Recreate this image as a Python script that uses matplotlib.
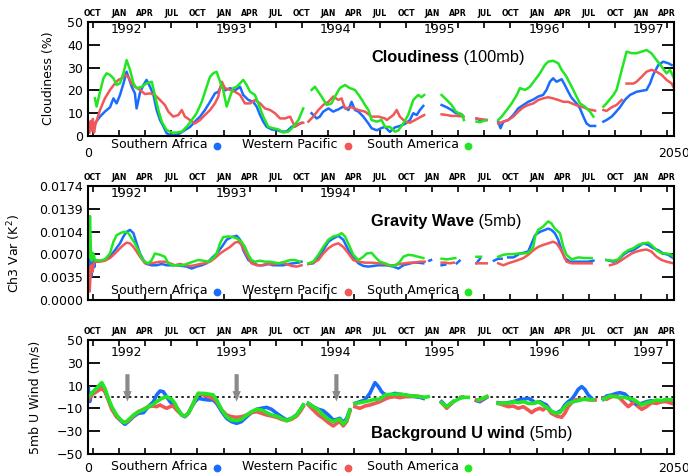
import numpy as np
from matplotlib import pyplot as plt
from matplotlib.lines import Line2D

nan = np.nan

# day 0 of the record
BASE_DATE = np.datetime64('1991-09-14')

regions = ['Southern Africa', 'Western Pacific', 'South America']
colors = ['#1a6cff', '#f25757', '#22e622']

month_labels = (['OCT', 'JAN', 'APR', 'JUL'] * 6)[:23]
year_labels = ['1992', '1993', '1994', '1995', '1996', '1997']
arrow_days = [138, 520, 869]

# ---- cloudiness at 100mb (%), (day, value)
saf_cld = [(13,2.6),(24,5.5),(42,8.5),(59,10.7),(77,12.6),(89,16.5),(100,14.3),(112,18),(124,23),(135,28.2),(153,21.6),(164,18.7),(170,12.1),(182,19),(194,22.4),(205,24.6),(217,21.6),(229,18),(240,11.4),(252,7),(263,4.4),(275,1.2),(287,0.4),(304,0.4),(322,1.2),(339,2.6),(357,4),(374,6.3),(392,8.5),(409,11.4),(427,15),(444,18.7),(456,19.4),(468,22.4),(479,20),(497,21),(514,20),(532,21.6),(543,18),(561,15.8),(578,15),(590,12.9),(602,9.2),(613,6.3),(625,4),(642,2.9),(660,2.6),(677,1.9),(695,2),(712,4),(730,4.8),(747,5.8),(765,nan),(782,10),(800,7.7),(811,8.5),(823,10.7),(841,12.1),(858,10.7),(876,11.7),(893,12.9),(911,11.4),(922,15),(934,11.4),(946,10.7),(963,8.5),(981,5.5),(992,3.4),(1010,2.5),(1027,3.5),(1039,4),(1056,1.8),(1074,3.8),(1091,4.4),(1109,5.3),(1126,7),(1138,10),(1150,9.2),(1161,11.4),(1173,13.2),(1200,nan),(1237,13.6),(1255,12.6),(1272,11.4),(1287,10),(1307,9.6),(1313,8.5),(1335,nan),(1359,7.7),(1371,7),(1392,7),(1413,nan),(1435,6.3),(1443,3.4),(1453,6.3),(1470,7),(1488,9.2),(1505,12.1),(1523,13.6),(1540,15),(1558,16),(1575,17.3),(1592,18),(1604,20.2),(1616,23.8),(1627,25.3),(1639,23.8),(1657,24.9),(1668,22.4),(1680,19.4),(1692,16.7),(1709,14.3),(1721,12.1),(1733,8.5),(1744,5.5),(1756,4.4),(1774,4.4),(1790,nan),(1803,6.3),(1814,7),(1832,8.5),(1843,10),(1861,12.6),(1878,15.8),(1896,18),(1919,19.4),(1942,19.9),(1954,20.2),(1966,23),(1977,26.8),(1995,31.1),(2012,32.6),(2030,31.9),(2042,31.1)]
wpac_cld = [(5,1.5),(9,6.5),(13,2.5),(17,7.5),(21,1.5),(26,5),(42,11.4),(59,16.5),(77,20.2),(94,23),(106,24.6),(118,25.3),(129,26.8),(141,26),(153,23),(164,21.6),(182,20.2),(199,18.4),(217,18.7),(234,18),(252,15.8),(269,13.6),(281,10.7),(298,8.5),(316,9.2),(328,11.4),(339,8.5),(357,7),(374,5.5),(392,7),(409,9.2),(427,11.4),(444,14.3),(456,17.3),(462,21),(468,23.8),(479,21),(497,20.2),(514,19.4),(532,18),(549,14.3),(567,14.3),(584,15.8),(602,14.3),(619,12.1),(637,11.4),(654,10),(672,7.7),(689,7.7),(707,8.5),(724,4),(742,5.5),(753,5.8),(762,nan),(771,6.3),(788,8.5),(806,11.4),(823,13.6),(841,15),(858,17.3),(876,15.8),(887,16.5),(899,12.1),(922,12.6),(946,11.4),(969,10.7),(992,8.5),(1016,8.5),(1039,7.7),(1045,7),(1068,9.2),(1080,11.4),(1091,8.5),(1109,6.3),(1126,5.8),(1144,7),(1161,8.2),(1176,9.2),(1200,nan),(1237,9.5),(1255,9.2),(1272,8.8),(1290,8.8),(1313,8.5),(1335,nan),(1359,7.7),(1395,7),(1415,nan),(1435,5.5),(1453,6.3),(1470,7),(1488,8.5),(1505,10.7),(1523,12.6),(1540,13.6),(1558,14.3),(1575,15.8),(1592,16.5),(1610,17),(1627,16.5),(1645,15.8),(1663,15),(1680,15),(1698,14),(1715,13.2),(1733,12.6),(1750,11.7),(1774,11.1),(1790,nan),(1803,11.4),(1814,11),(1832,12.6),(1849,13.6),(1867,15.8),(1878,nan),(1884,23),(1908,23),(1919,23.8),(1937,26),(1954,28.2),(1971,29),(1989,28.2),(2007,26.8),(2024,24.6),(2042,23),(2050,21)]
sam_cld = [(24,16.5),(30,12.9),(42,19.4),(54,25.3),(65,27.5),(77,26.8),(89,25.3),(100,22.4),(112,23.1),(124,27.5),(135,33.3),(147,29),(159,23.1),(170,21),(188,21.6),(205,23.1),(223,23.8),(234,18),(246,11.4),(258,6.3),(275,2.6),(293,1.5),(310,1.5),(328,1.9),(345,4),(363,7),(380,10),(398,15),(415,21.6),(427,26),(438,27.5),(450,28.2),(462,23.8),(473,20.2),(485,12.9),(497,17.3),(508,21),(520,21.6),(532,23.1),(543,24.6),(555,22.4),(567,19.4),(584,18),(596,14.3),(613,8.5),(631,4),(648,3.4),(666,2.9),(683,1.5),(701,1.9),(718,4),(736,7),(753,12.1),(765,nan),(782,20.2),(794,21.6),(806,19.4),(817,17.3),(835,13.6),(852,14.3),(864,17.3),(881,21),(899,22.4),(916,21),(934,20.2),(951,17.3),(969,13.6),(981,11.4),(992,7),(1010,6.3),(1027,7),(1039,4),(1056,4),(1074,1.9),(1086,2.5),(1103,5.5),(1120,9.2),(1138,15.8),(1155,18),(1167,17),(1176,18),(1200,nan),(1237,18),(1255,15.8),(1272,13.6),(1287,10.7),(1310,9.2),(1315,7),(1335,nan),(1359,6.3),(1371,6),(1392,7),(1413,nan),(1435,7),(1447,8.5),(1465,11.4),(1482,14.3),(1500,18),(1511,21),(1529,20.2),(1546,21.6),(1564,24.6),(1581,27.5),(1598,31.1),(1610,32.6),(1627,33),(1645,31.9),(1657,29),(1674,26),(1692,21.6),(1709,17.3),(1721,14.3),(1738,12.9),(1756,10.7),(1768,8.5),(1790,nan),(1803,12.9),(1814,14.3),(1838,18),(1849,20.2),(1861,26),(1873,31.9),(1884,37),(1902,36.3),(1919,36.3),(1937,37),(1954,37.7),(1971,36.3),(1989,33.3),(2007,30.4),(2024,27.5),(2036,29),(2050,25.3)]

# ---- gravity wave ch3 variance at 5mb (1e-3 K^2)
saf_gw = [(3,7.9),(6,4.2),(9,6.8),(12,3.6),(15,5.2),(19,6.5),(22,5.0),(24,5.85),(42,5.96),(59,6.1),(77,6.6),(94,7.6),(112,8.65),(124,9.7),(135,10.4),(147,10.7),(159,10.2),(170,8.65),(182,7.1),(194,6.1),(205,5.5),(223,5.3),(240,5.3),(258,5.5),(275,5.3),(293,5.3),(310,5.3),(328,5.2),(345,5.1),(363,4.8),(380,5.1),(398,5.3),(415,5.6),(433,6.4),(450,7.1),(468,8.1),(485,9.2),(502,9.6),(520,9.8),(532,9.2),(543,7.6),(561,6.1),(578,5.6),(596,5.3),(613,5.3),(631,5.5),(648,5.3),(666,5.3),(683,5.3),(701,5.5),(718,5.6),(736,5.7),(747,5.85),(760,nan),(771,5.5),(788,5.6),(806,6.4),(823,7.6),(841,8.9),(858,9.4),(876,9.8),(893,9.2),(911,7.6),(928,6.4),(946,5.6),(963,5.2),(981,5.1),(998,5.2),(1016,5.3),(1039,5.3),(1045,5.3),(1068,5.1),(1086,4.8),(1103,5.3),(1120,5.5),(1138,5.7),(1155,5.7),(1173,5.6),(1185,nan),(1194,6.0),(1200,6.1),(1215,nan),(1237,5.3),(1250,5.4),(1265,nan),(1290,5.6),(1300,6.0),(1320,nan),(1359,5.6),(1371,6.3),(1395,nan),(1420,6.0),(1435,6.3),(1447,6.3),(1458,nan),(1470,6.5),(1488,6.5),(1500,6.8),(1511,7.1),(1523,7.2),(1540,7.4),(1552,8.65),(1564,9.9),(1581,10.4),(1598,10.7),(1610,10.9),(1621,10.7),(1633,10.2),(1645,9.2),(1657,7.6),(1668,6.4),(1686,5.85),(1709,5.85),(1733,5.85),(1750,5.85),(1768,6.0),(1785,nan),(1814,6.1),(1838,5.85),(1855,6.1),(1873,6.9),(1890,7.4),(1908,7.6),(1925,8.1),(1942,8.65),(1960,8.4),(1977,7.9),(1995,7.6),(2012,7.1),(2030,6.9),(2047,6.4)]
wpac_gw = [(3,5.0),(6,1.3),(9,3.8),(12,5.3),(16,4.3),(20,5.6),(24,5.85),(42,5.85),(59,6.0),(77,6.4),(94,7.1),(112,7.9),(124,8.4),(135,8.75),(147,8.65),(159,8.1),(170,7.4),(182,6.6),(199,5.6),(217,5.6),(234,5.7),(252,5.85),(269,5.85),(287,5.6),(304,5.3),(322,5.5),(339,5.3),(357,5.2),(374,5.3),(392,5.5),(409,5.6),(427,5.85),(444,6.4),(462,7.1),(479,7.6),(497,8.1),(514,8.75),(526,8.9),(537,8.4),(555,6.9),(572,5.6),(590,5.3),(607,5.3),(625,5.5),(642,5.5),(660,5.5),(677,5.7),(695,5.5),(712,5.2),(730,5.1),(747,5.3),(760,nan),(771,5.5),(788,5.7),(806,6.1),(823,7.1),(841,7.9),(858,8.4),(876,8.65),(893,8.1),(911,7.1),(928,6.1),(946,5.85),(969,5.7),(992,5.7),(1016,5.6),(1039,5.5),(1045,5.3),(1068,5.3),(1091,5.5),(1109,5.6),(1126,5.7),(1144,5.7),(1161,5.85),(1178,5.85),(1200,nan),(1237,5.7),(1250,5.7),(1265,5.6),(1280,5.7),(1300,nan),(1359,5.6),(1380,5.6),(1395,5.6),(1415,nan),(1435,5.6),(1453,5.3),(1470,5.6),(1488,5.85),(1505,6.1),(1523,6.4),(1540,6.9),(1558,7.6),(1575,8.1),(1592,8.4),(1610,8.65),(1627,8.9),(1639,8.65),(1651,7.9),(1663,6.9),(1674,5.85),(1692,5.6),(1715,5.6),(1738,5.6),(1762,5.6),(1790,nan),(1826,5.3),(1849,5.6),(1867,6.1),(1884,6.6),(1902,7.1),(1919,7.4),(1937,7.6),(1954,7.7),(1971,7.4),(1989,6.6),(2007,6.1),(2024,5.85),(2047,5.6)]
sam_gw = [(4,6.5),(7,12.8),(10,7.8),(13,6.0),(17,7.2),(21,6.8),(24,6.1),(42,6.0),(59,6.2),(77,7.1),(89,8.9),(100,9.9),(118,10.3),(129,10.4),(141,10.2),(153,9.4),(164,8.65),(176,7.6),(188,6.4),(199,5.85),(211,5.6),(223,6.1),(234,7.1),(252,6.9),(269,6.6),(281,5.6),(298,5.3),(316,5.3),(333,5.3),(351,5.6),(368,5.85),(386,6.1),(403,6.0),(421,5.85),(438,6.4),(450,7.1),(462,8.65),(473,9.6),(491,9.7),(508,9.6),(520,9.4),(537,8.9),(549,8.1),(561,6.9),(572,6.1),(584,5.85),(602,6.0),(619,5.85),(637,5.85),(654,5.7),(672,5.6),(689,5.85),(707,6.1),(724,6.1),(742,5.85),(758,nan),(771,5.6),(788,5.85),(806,6.9),(823,8.1),(841,9.2),(858,9.7),(876,9.9),(887,10.2),(899,9.7),(916,8.1),(928,6.9),(946,6.1),(963,6.6),(975,7.1),(992,7.2),(1004,6.6),(1021,5.85),(1039,5.6),(1056,5.3),(1074,5.2),(1091,5.85),(1103,6.6),(1120,6.9),(1138,6.8),(1155,6.6),(1173,6.4),(1190,nan),(1237,6.3),(1255,6.2),(1285,6.4),(1300,nan),(1359,6.6),(1375,6.6),(1390,nan),(1435,6.6),(1453,6.9),(1470,7.0),(1488,7.0),(1505,7.1),(1523,7.1),(1540,7.2),(1558,8.1),(1564,9.7),(1575,10.7),(1592,11.2),(1610,12.0),(1621,11.7),(1633,10.9),(1651,10.2),(1663,8.1),(1674,6.9),(1692,6.2),(1715,6.5),(1738,6.4),(1762,6.4),(1790,nan),(1814,6.1),(1838,6.0),(1855,6.2),(1873,7.1),(1890,7.6),(1908,7.9),(1925,8.4),(1942,8.65),(1960,8.75),(1971,8.4),(1989,7.6),(2007,7.1),(2024,7.1),(2042,6.9),(2050,6.4)]

# ---- background U wind at 5mb (m/s)
saf_u = [(1,8),(6,-4),(13,3.2),(30,7.6),(48,12),(59,6),(71,-2),(83,-9.9),(100,-17.3),(118,-21.6),(129,-24),(141,-21.6),(159,-17.3),(176,-14.3),(194,-13.7),(211,-8.5),(229,-4.1),(240,1.8),(252,5.3),(263,4.7),(275,0.3),(287,-4.1),(298,-7),(316,-11.4),(328,-15.8),(339,-17.3),(351,-14.3),(363,-8.5),(374,-4.1),(386,-1.2),(403,-2),(421,-2.6),(438,-2.6),(450,-5.6),(468,-12.9),(485,-18.7),(502,-21.6),(520,-23.1),(537,-21.6),(555,-17.3),(572,-13.7),(590,-10.8),(607,-9.9),(625,-9.1),(642,-10.8),(660,-14.3),(677,-17.3),(695,-20.2),(712,-18.7),(730,-15.8),(742,-11.4),(753,-7),(762,nan),(771,-5.6),(788,-8.5),(806,-10.8),(823,-12),(841,-15.8),(858,-20.2),(870,-19.6),(881,-18.7),(893,-22.5),(905,-18.7),(916,-11.4),(925,nan),(934,-5.6),(951,-4.1),(969,-2.6),(986,3.2),(1004,12.6),(1016,9.1),(1027,4.7),(1033,3.2),(1045,1.8),(1056,1.8),(1074,3.2),(1091,2.3),(1109,1.8),(1126,0.9),(1144,0.3),(1161,-0.3),(1173,-1.2),(1185,nan),(1237,-4.1),(1255,-8.5),(1266,-7),(1278,-4.1),(1290,nan),(1305,-0.6),(1310,-0.3),(1320,nan),(1359,-3.2),(1371,-4.1),(1395,-0.3),(1415,nan),(1435,-5),(1453,-5.6),(1470,-5),(1488,-4.1),(1505,-2.6),(1523,-2),(1540,-1.2),(1552,-2.6),(1564,-5),(1581,-4.1),(1592,-5.6),(1604,-7),(1621,-12.9),(1639,-14.3),(1657,-11.4),(1668,-7),(1680,-4.1),(1692,-2),(1703,1.8),(1715,6.7),(1727,9.1),(1738,6.7),(1750,1.8),(1762,-1.2),(1790,nan),(1803,-2),(1814,0.9),(1832,1.8),(1849,3.2),(1861,3.8),(1878,2.6),(1890,-0.3),(1908,-5),(1919,-7),(1937,-5.6),(1954,-4.1),(1971,-3.2),(1989,-5),(2007,-4.1),(2024,-2),(2042,-3.2)]
wpac_u = [(1,-2.6),(13,1.8),(30,4.7),(48,7.6),(59,4.7),(71,-2.6),(83,-10.8),(100,-17.3),(118,-21),(129,-22.5),(141,-21),(159,-16.7),(176,-12.9),(194,-10.8),(211,-8.5),(229,-7.9),(240,-8.5),(252,-7),(263,-8.5),(275,-9.9),(287,-8.5),(298,-7.9),(310,-11.4),(328,-15.8),(339,-16.7),(351,-14.3),(363,-8.5),(374,-2.6),(386,3.2),(403,1.8),(421,0.3),(438,-1.2),(450,-4.1),(468,-11.4),(485,-15.8),(502,-17.3),(520,-17.8),(537,-17.3),(555,-15.8),(572,-13.7),(590,-12.9),(607,-14.3),(625,-15.8),(642,-16.7),(660,-17.8),(677,-19.6),(695,-20.8),(712,-19.6),(730,-16.7),(742,-12.9),(753,-8.5),(762,nan),(771,-7),(788,-11.4),(806,-15.8),(823,-18.7),(841,-22.5),(858,-25.4),(870,-23.1),(881,-21.6),(893,-25.4),(905,-21.6),(916,-12.9),(925,nan),(934,-8.5),(951,-9.9),(969,-7.9),(986,-7),(1004,-5.6),(1021,-4.1),(1039,-2),(1045,-1.2),(1056,-0.3),(1074,0.3),(1091,-0.6),(1109,0.3),(1126,0.3),(1144,0.9),(1161,0.3),(1173,-0.3),(1185,nan),(1237,-5),(1255,-9.9),(1266,-7),(1278,-4.1),(1290,nan),(1305,-0.3),(1310,-0.3),(1320,nan),(1359,-2.6),(1371,-3.2),(1395,0.3),(1415,nan),(1435,-5.6),(1453,-7),(1470,-8.5),(1488,-7.9),(1505,-9.9),(1523,-8.5),(1540,-11.4),(1552,-13.7),(1564,-11.4),(1581,-9.9),(1592,-11.4),(1604,-8.5),(1621,-14.3),(1639,-16.7),(1657,-17.8),(1668,-14.3),(1680,-8.5),(1692,-5),(1703,-2.6),(1721,-2),(1738,-2),(1756,-2.6),(1774,-2.6),(1790,nan),(1803,-1.2),(1814,-2),(1832,0.3),(1849,0.9),(1861,-1.2),(1878,-5.6),(1890,-8.5),(1902,-6.1),(1913,-4.1),(1919,nan),(1925,-8.5),(1937,-10.8),(1954,-8.5),(1971,-5),(1989,-5.6),(2007,-4.1),(2024,-4.1),(2042,-5.6)]
sam_u = [(1,0),(13,3.2),(30,7.6),(48,12.6),(59,7.6),(71,-1.2),(83,-8.5),(100,-15.8),(118,-21),(129,-22.5),(141,-20.2),(159,-15.8),(176,-12.9),(194,-11.4),(211,-8.5),(229,-6.4),(240,-4.1),(258,-1.2),(275,0.3),(293,-2),(304,-5.6),(316,-11.4),(328,-15.8),(339,-16.7),(351,-14.3),(363,-8.5),(374,-2.6),(386,3.2),(403,3.2),(421,2.6),(438,1.8),(450,-2.6),(468,-11.4),(485,-17.3),(502,-20.2),(520,-20.8),(537,-19.6),(555,-15.8),(572,-12.9),(590,-10.8),(607,-11.4),(625,-13.7),(642,-15.8),(660,-16.7),(677,-18.7),(695,-20.8),(712,-18.7),(730,-15.8),(742,-11.4),(753,-7),(762,nan),(771,-5.6),(788,-8.5),(806,-11.4),(823,-15.8),(841,-19.6),(858,-21.6),(870,-20.2),(881,-19.6),(893,-23.7),(905,-20.2),(916,-11.4),(925,nan),(934,-5.6),(951,-5),(969,-4.1),(986,-3.2),(1004,-2),(1021,-2),(1039,1.8),(1056,2.3),(1074,2.3),(1091,2.6),(1109,1.8),(1126,1.2),(1144,0.9),(1161,0.3),(1176,-0.3),(1190,0.3),(1210,nan),(1237,-5),(1255,-8.5),(1272,-5),(1290,-2.6),(1307,-0.3),(1330,-0.3),(1345,nan),(1365,-2.6),(1395,0.3),(1415,nan),(1435,-5.6),(1453,-5),(1470,-5.6),(1488,-4.1),(1505,-5),(1523,-4.1),(1540,-5.6),(1558,-5.6),(1575,-4.1),(1592,-7),(1616,-11.4),(1633,-14.3),(1651,-13.7),(1668,-8.5),(1680,-5.6),(1698,-4.1),(1715,-3.2),(1733,-2),(1750,-2),(1768,-2.6),(1790,nan),(1803,-2),(1826,0.9),(1843,0.3),(1861,-0.3),(1878,-0.3),(1890,-1.2),(1908,-2),(1925,-5),(1937,-7),(1954,-5),(1971,-4.1),(1989,-2.6),(2007,-3.2),(2024,-2),(2042,-2.6)]

W, H = 688, 474
TITLE_FONT = ['Liberation Sans', 'DejaVu Sans']


def fx(px):
    return px / W


def fy(py):
    return 1 - py / H


def make_axes(fig, top_px):
    """パネルの枠、月目盛り"""
    ax = fig.add_axes([fx(88), fy(top_px + 114), fx(674) - fx(88), 114 / H])
    ax.set_xlim(0, 2050)
    for s in ax.spines.values():
        s.set_linewidth(1.5)

    months = np.arange(np.datetime64('1991-10'), np.datetime64('1997-05'), 3)
    month_days = (months.astype('datetime64[D]') - BASE_DATE).astype(int)
    ax.set_xticks(month_days)
    ax.set_xticklabels(month_labels, fontweight='bold')
    ax.tick_params(axis='x', which='major', direction='in', length=4, width=1.2,
                   top=True, bottom=True, labeltop=True, labelbottom=False,
                   labelsize=5.6, pad=3)
    ax.tick_params(axis='y', direction='in', length=8.5, width=1.3,
                   left=True, right=True, labelsize=9, pad=3.5)
    return ax


def add_years(ax, years, yfrac):
    for y in years:
        d = (np.datetime64(y + '-01-27') - BASE_DATE).astype(int)
        ax.text(d, yfrac, y, transform=ax.get_xaxis_transform(),
                ha='center', va='center', fontsize=9)


def add_end_labels(ax, pad):
    ax.set_xticks([0, 2050], minor=True)
    ax.set_xticklabels(['0', '2050'], minor=True)
    ax.tick_params(axis='x', which='minor', length=0, labelbottom=True,
                   labeltop=False, labelsize=9, pad=pad)


def add_title(ax, bold, rest, xfrac, yfrac):
    t = ax.text(xfrac, yfrac, bold, transform=ax.transAxes, fontsize=11.8,
                fontweight='bold', family=TITLE_FONT, va='center')
    ax.annotate(' ' + rest, xy=(1, 0), xycoords=t, va='bottom', ha='left',
                fontsize=11.8, family=TITLE_FONT)


def add_legend(fig, py):
    text_x = [111, 242, 367]
    dot_x = [217, 348, 468]
    for name, c, tx, dx in zip(regions, colors, text_x, dot_x):
        fig.text(fx(tx), fy(py), name, fontsize=9, va='center', ha='left')
        fig.add_artist(Line2D([fx(dx)], [fy(py + 1)], marker='o', markersize=4.6,
                              color=c, transform=fig.transFigure))


def draw_series(ax, series, scale=1.0, lw=1.8):
    for data, c in zip(series, colors):
        arr = np.array(data, dtype=float)
        ax.plot(arr[:, 0], arr[:, 1] * scale, color=c, lw=lw)


def main():
    fig = plt.figure(figsize=(W / 100, H / 100), dpi=100)

    # 雲量
    ax1 = make_axes(fig, 22)
    ax1.set_ylim(0, 50)
    ax1.set_yticks([0, 10, 20, 30, 40, 50])
    draw_series(ax1, [saf_cld, wpac_cld, sam_cld])
    add_years(ax1, year_labels, 0.93)
    add_end_labels(ax1, 8)
    ax1.set_ylabel('Cloudiness (%)', fontsize=9)
    ax1.yaxis.set_label_coords(-0.056, 0.51)
    add_title(ax1, 'Cloudiness', '(100mb)', 0.483, 0.69)
    add_legend(fig, 145)

    # 重力波
    ax2 = make_axes(fig, 186)
    ax2.set_ylim(0, 0.0174)
    gw_ticks = np.linspace(0, 0.0174, 6)
    ax2.set_yticks(gw_ticks)
    ax2.set_yticklabels(['%.4f' % v for v in gw_ticks])
    draw_series(ax2, [saf_gw, wpac_gw, sam_gw], scale=1e-3)
    add_years(ax2, year_labels[:3], 0.93)
    ax2.set_ylabel('Ch3 Var (K$^2$)', fontsize=9)
    ax2.yaxis.set_label_coords(-0.111, 0.41)
    add_title(ax2, 'Gravity Wave', '(5mb)', 0.483, 0.687)
    add_legend(fig, 291)

    # 東西風
    ax3 = make_axes(fig, 340)
    ax3.set_ylim(-50, 50)
    ax3.set_yticks([-50, -30, -10, 10, 30, 50])
    ax3.axhline(0, color='black', lw=1.2, ls=(0, (1.5, 2)), zorder=1)
    draw_series(ax3, [saf_u, wpac_u, sam_u], lw=2.6)
    for d in arrow_days:
        ax3.annotate('', xy=(d, -4), xytext=(d, 20),
                     arrowprops=dict(arrowstyle='simple,head_length=0.75,head_width=0.6,tail_width=0.3',
                                     fc='#8a8a8a', ec='none', shrinkA=0, shrinkB=0))
    add_years(ax3, year_labels, 0.886)
    add_end_labels(ax3, 6)
    ax3.set_ylabel('5mb U Wind (m/s)', fontsize=9)
    ax3.yaxis.set_label_coords(-0.0785, 0.5)
    add_title(ax3, 'Background U wind', '(5mb)', 0.483, 0.184)
    add_legend(fig, 467)

    fig.savefig('out.png', dpi=100)


if __name__ == "__main__":
    main()
